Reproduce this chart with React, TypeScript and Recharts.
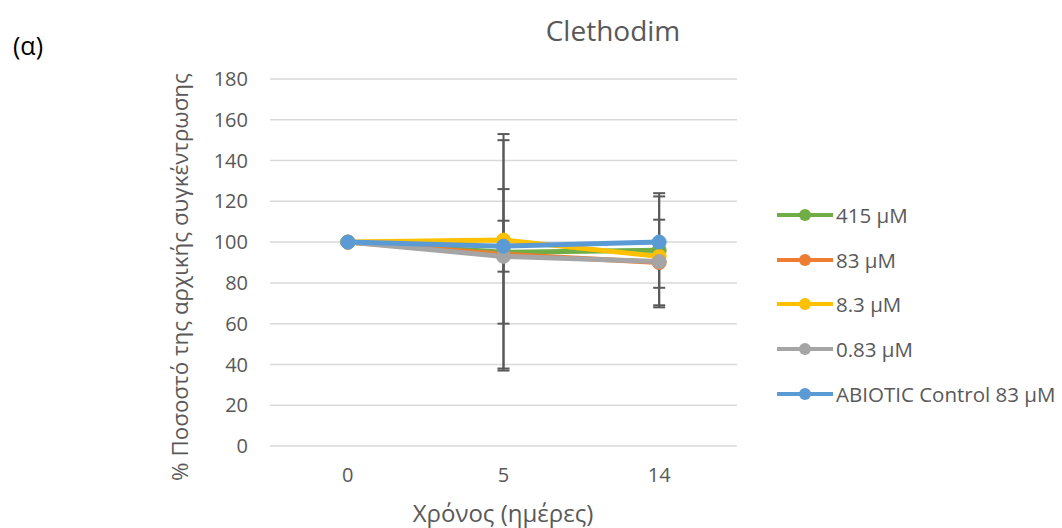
import React from "react";
import {
  LineChart,
  Line,
  XAxis,
  YAxis,
  CartesianGrid,
  Legend,
  ErrorBar,
} from "recharts";

// time points (days)
const days = ["0", "5", "14"];

// % of initial concentration
const s415 = [100, 95, 96];
const s83 = [100, 94, 90];
const s8_3 = [100, 101, 93];
const s083 = [100, 93, 90.5];
const abiotic = [100, 98, 100];

// error bars (±)
const e415 = [0, 58, 28];
const e83 = [0, 56, 21];
const e8_3 = [0, 0, 0];
const e083 = [0, 33, 0];
const eAbiotic = [0, 12.5, 22.4];

const yTicks = [0, 20, 40, 60, 80, 100, 120, 140, 160, 180];

const SERIES = [
  { key: "s415", err: "e415", name: "415 µM", color: "#70AD47" },
  { key: "s83", err: "e83", name: "83 µM", color: "#ED7D31" },
  { key: "s8_3", err: "e8_3", name: "8.3 µM", color: "#FFC000" },
  { key: "s083", err: "e083", name: "0.83 µM", color: "#A5A5A5" },
  { key: "abiotic", err: "eAbiotic", name: "ABIOTIC Control 83 µM", color: "#5B9BD5" },
];

const data = days.map((d, i) => ({
  day: d,
  s415: s415[i],
  s83: s83[i],
  s8_3: s8_3[i],
  s083: s083[i],
  abiotic: abiotic[i],
  e415: e415[i],
  e83: e83[i],
  e8_3: e8_3[i],
  e083: e083[i],
  eAbiotic: eAbiotic[i],
}));

const FONT = "'Open Sans', sans-serif";
const TEXT = "#595959";

const renderLegend = () => (
  <div style={{ fontFamily: FONT, fontSize: 20.5, color: TEXT }}>
    {SERIES.map((s) => (
      <div
        key={s.key}
        style={{ display: "flex", alignItems: "center", height: 44.6 }}
      >
        <svg width={58} height={16} style={{ marginRight: 2 }}>
          <line x1={1} y1={8} x2={57} y2={8} stroke={s.color} strokeWidth={4} />
          <circle cx={29} cy={8} r={6} fill={s.color} />
        </svg>
        <span style={{ whiteSpace: "nowrap" }}>{s.name}</span>
      </div>
    ))}
  </div>
);

export default function App() {
  return (
    <div
      style={{
        position: "absolute",
        left: 0,
        top: 0,
        width: 1062,
        height: 528,
        background: "#fff",
        fontFamily: FONT,
        overflow: "hidden",
      }}
    >
      {/* Panel label */}
      <div
        style={{
          position: "absolute",
          left: 13,
          top: 45,
          transform: "translateY(-50%)",
          fontSize: 25,
          color: "#000",
        }}
      >
        (α)
      </div>

      {/* Title */}
      <div
        style={{
          position: "absolute",
          left: 613,
          top: 30,
          transform: "translate(-50%, -50%)",
          fontSize: 28,
          color: TEXT,
          whiteSpace: "nowrap",
        }}
      >
        Clethodim
      </div>

      {/* Y axis title */}
      <div
        style={{
          position: "absolute",
          left: 179,
          top: 277,
          transform: "translate(-50%, -50%) rotate(-90deg)",
          fontSize: 22.4,
          color: TEXT,
          whiteSpace: "nowrap",
        }}
      >
        % Ποσοστό της αρχικής συγκέντρωσης
      </div>

      {/* X axis title */}
      <div
        style={{
          position: "absolute",
          left: 503,
          top: 513,
          transform: "translate(-50%, -50%)",
          fontSize: 24,
          lineHeight: "30px",
          color: TEXT,
          whiteSpace: "nowrap",
        }}
      >
        Χρόνος (ημέρες)
      </div>

      <LineChart
        width={1062}
        height={528}
        data={data}
        margin={{ top: 79, right: 325, bottom: 0, left: 0 }}
      >
        <CartesianGrid vertical={false} stroke="#d9d9d9" strokeWidth={1.5} />
        <XAxis
          dataKey="day"
          scale="band"
          height={82}
          axisLine={false}
          tickLine={false}
          tickSize={0}
          tickMargin={22}
          tick={{ fill: TEXT, fontSize: 20, fontFamily: FONT }}
        />
        <YAxis
          width={270}
          domain={[0, 180]}
          ticks={yTicks}
          interval={0}
          axisLine={false}
          tickLine={false}
          tickSize={0}
          tickMargin={22}
          tick={{ fill: TEXT, fontSize: 20, fontFamily: FONT }}
        />
        <Legend
          layout="horizontal"
          align="center"
          verticalAlign="middle"
          content={renderLegend}
          wrapperStyle={{ position: "absolute", left: 776, top: 193, width: 286 }}
        />
        {SERIES.map((s) => (
          <Line
            key={s.key}
            dataKey={s.key}
            name={s.name}
            type="linear"
            stroke={s.color}
            strokeWidth={5}
            dot={{ r: 7, fill: s.color, stroke: s.color, strokeWidth: 1 }}
            activeDot={false}
            isAnimationActive={false}
          >
            <ErrorBar
              dataKey={s.err}
              direction="y"
              width={6}
              stroke="#595959"
              strokeWidth={2}
              isAnimationActive={false}
            />
          </Line>
        ))}
      </LineChart>
    </div>
  );
}
